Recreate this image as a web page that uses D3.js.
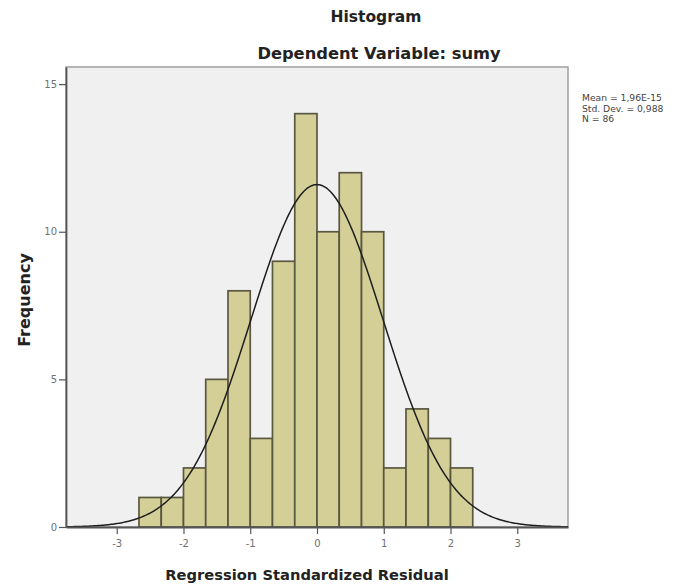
<!DOCTYPE html>
<html>
<head>
<meta charset="utf-8">
<script src="https://cdn.jsdelivr.net/npm/d3@7/dist/d3.min.js"></script>
<style>
  html, body { margin: 0; padding: 0; background: #ffffff; }
  svg { display: block; }
</style>
</head>
<body>
<svg id="chart" width="682" height="584"></svg>
<script>
// ---- data ----
const titleText = "Histogram";
const subtitleText = "Dependent Variable: sumy";
const xLabelText = "Regression Standardized Residual";
const yLabelText = "Frequency";
const binStarts = [-2.667, -2.333, -2.0, -1.667, -1.333, -1.0, -0.667, -0.333, 0.0, 0.333, 0.667, 1.0, 1.333, 1.667, 2.0];
const binEnds   = [-2.333, -2.0, -1.667, -1.333, -1.0, -0.667, -0.333, 0.0, 0.333, 0.667, 1.0, 1.333, 1.667, 2.0, 2.333];
const counts    = [1, 1, 2, 5, 8, 3, 9, 14, 10, 12, 10, 2, 4, 3, 2];
const xTicks = [-3, -2, -1, 0, 1, 2, 3];
const yTicks = [0, 5, 10, 15];
const statMean = 1.96e-15;
const statSd = 0.988;
const statN = 86;
const legendLines = ["Mean = 1,96E-15", "Std. Dev. = 0,988", "N = 86"];

// ---- layout ----
const svg = d3.select("#chart");
const pLeft = 66, pRight = 568, pTop = 67, pBottom = 527;
const x = d3.scaleLinear().domain([-3.76, 3.76]).range([pLeft, pRight]);
const y = d3.scaleLinear().domain([0, 15.58]).range([pBottom, pTop]);

// plot background
svg.append("rect")
  .attr("x", pLeft).attr("y", pTop)
  .attr("width", pRight - pLeft).attr("height", pBottom - pTop)
  .attr("fill", "#f0f0f0")
  .attr("stroke", "#a0a0a0").attr("stroke-width", 1.5);

// bars
const bins = counts.map((c, i) => ({ x0: binStarts[i], x1: binEnds[i], c }));
svg.append("g").selectAll("rect").data(bins).join("rect")
  .attr("x", d => x(d.x0))
  .attr("y", d => y(d.c))
  .attr("width", d => x(d.x1) - x(d.x0))
  .attr("height", d => y(0) - y(d.c))
  .attr("fill", "#d4cf97")
  .attr("stroke", "#5a5740")
  .attr("stroke-width", 1.7);

// normal curve
const binW = binEnds[0] - binStarts[0];
const curveXs = d3.range(-3.76, 3.7601, 0.02);
const pdf = v => statN * binW / (statSd * Math.sqrt(2 * Math.PI)) * Math.exp(-0.5 * Math.pow((v - statMean) / statSd, 2));
svg.append("path")
  .datum(curveXs)
  .attr("d", d3.line().x(v => x(v)).y(v => y(pdf(v))).curve(d3.curveLinear))
  .attr("fill", "none")
  .attr("stroke", "#1e1e1e")
  .attr("stroke-width", 1.5);

// axes
const xAxis = svg.append("g").attr("transform", `translate(0,${pBottom})`)
  .call(d3.axisBottom(x).tickValues(xTicks).tickSizeInner(7).tickSizeOuter(0).tickPadding(6).tickFormat(d => String(d)));
const yAxis = svg.append("g").attr("transform", `translate(${pLeft},0)`)
  .call(d3.axisLeft(y).tickValues(yTicks).tickSizeInner(7).tickSizeOuter(0).tickPadding(2).tickFormat(d => String(d)));
[xAxis, yAxis].forEach(g => {
  g.select(".domain").attr("stroke", "#555").attr("stroke-width", 1.8);
  g.selectAll(".tick line").attr("stroke", "#555").attr("stroke-width", 1.2);
  g.selectAll(".tick text").attr("fill", "#707070")
    .style("font-family", "DejaVu Sans, sans-serif").style("font-size", "10px");
});

// titles
svg.append("text").text(titleText)
  .attr("x", 376).attr("y", 22).attr("text-anchor", "middle")
  .style("font-family", "DejaVu Sans, sans-serif").style("font-weight", "bold")
  .style("font-size", "15.5px").attr("fill", "#222");
svg.append("text").text(subtitleText)
  .attr("x", 379).attr("y", 59).attr("text-anchor", "middle")
  .style("font-family", "DejaVu Sans, sans-serif").style("font-weight", "bold")
  .style("font-size", "16.3px").attr("fill", "#222");

// axis labels
svg.append("text").text(xLabelText)
  .attr("x", 307).attr("y", 580).attr("text-anchor", "middle")
  .style("font-family", "DejaVu Sans, sans-serif").style("font-weight", "bold")
  .style("font-size", "14.7px").attr("fill", "#222");
svg.append("text").text(yLabelText)
  .attr("transform", "translate(30,300) rotate(-90)")
  .attr("text-anchor", "middle")
  .style("font-family", "DejaVu Sans, sans-serif").style("font-weight", "bold")
  .style("font-size", "16px").attr("fill", "#222");

// stats legend
svg.append("g").selectAll("text").data(legendLines).join("text")
  .text(d => d)
  .attr("x", 582).attr("y", (d, i) => 101 + i * 10.5)
  .style("font-family", "DejaVu Sans, sans-serif")
  .style("font-size", "9.2px").attr("fill", "#444");
</script>
</body>
</html>
